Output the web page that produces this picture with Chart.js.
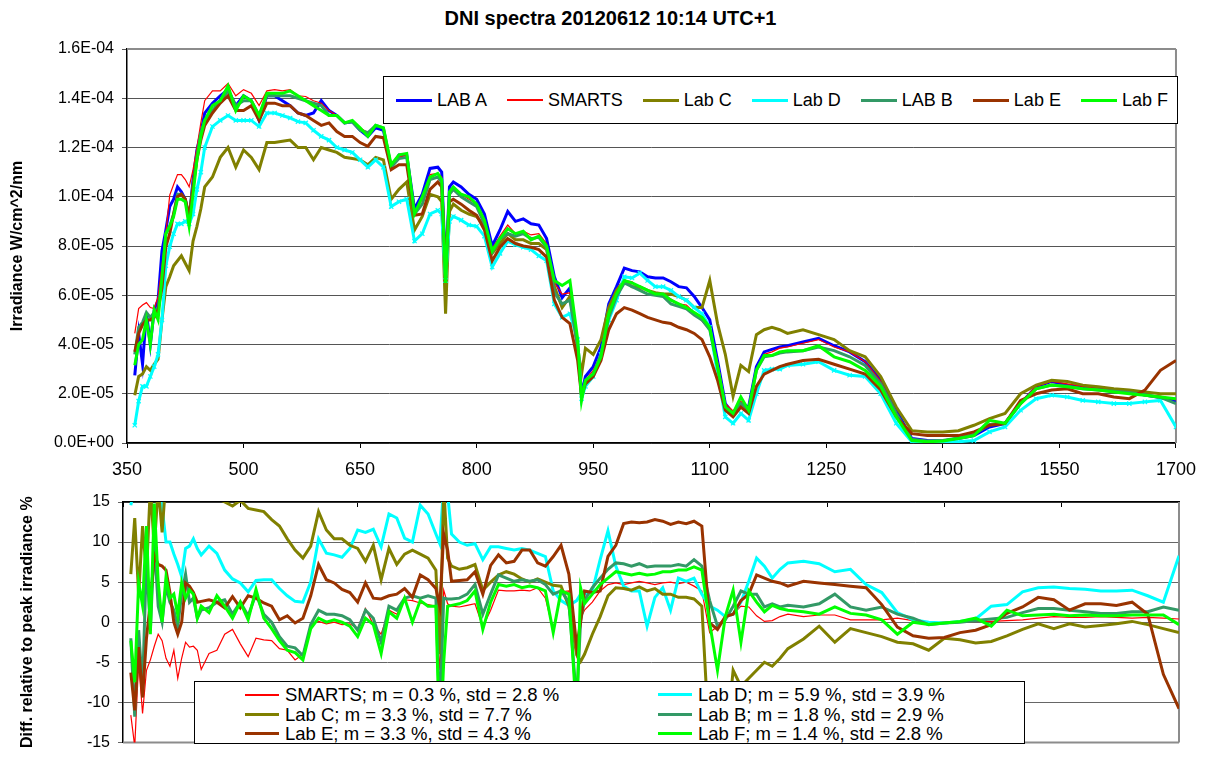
<!DOCTYPE html>
<html>
<head>
<meta charset="utf-8">
<title>DNI spectra 20120612 10:14 UTC+1</title>
<script src="https://cdn.jsdelivr.net/npm/chart.js@4.4.1/dist/chart.umd.min.js"></script>
<style>
    html, body { margin: 0; padding: 0; background: #fff; }
    body { width: 1207px; height: 760px; position: relative; overflow: hidden; font-family: "Liberation Sans", Arial, sans-serif; color: #000; }
    .title { position: absolute; left: 0; top: 6px; width: 1221px; text-align: center; font-weight: bold; font-size: 20px; line-height: 24px; }
    #topWrap { position: absolute; left: 0; top: 0; width: 1207px; height: 490px; }
    #bottomWrap { position: absolute; left: 0; top: 470px; width: 1207px; height: 290px; }
    .legend { position: absolute; background: #fff; border: 1px solid #000; box-sizing: border-box; z-index: 2; font-size: 18px; }
    #topLegend { left: 383px; top: 76px; width: 795px; height: 48px; display: flex; align-items: center; gap: 20px; padding-left: 12px; }
    #bottomLegend { left: 194px; top: 681px; width: 831px; height: 63px; display: grid; grid-template-columns: 413px auto; grid-auto-rows: 19.5px; padding: 3px 0 0 50px; line-height: 19.5px; font-size: 18.5px; }
    .item { display: flex; align-items: center; white-space: nowrap; }
    .swatch { width: 36px; margin-right: 5px; }
    #bottomLegend .swatch { width: 34px; margin-right: 6px; }
</style>
</head>
<body>
<div class="title">DNI spectra 20120612 10:14 UTC+1</div>
<div id="topWrap"><canvas id="spectraChart"></canvas></div>
<div id="bottomWrap"><canvas id="diffChart"></canvas></div>
<div class="legend" id="topLegend"></div>
<div class="legend" id="bottomLegend"></div>

<script>
// wavelength grid, nm
const wavelengths = [
    360, 365, 370, 375, 380, 385, 390, 395, 400, 405, 410, 415, 420, 425, 430, 435, 440, 445, 450,
    460, 470, 480, 490, 500, 510, 520, 530, 540, 550, 560, 570, 580, 590, 600, 610, 620, 630, 640, 650, 660, 670, 680, 690, 700,
    710, 720, 730, 740, 750, 755, 760, 765, 770, 780, 790, 800, 810, 820, 830, 840, 850, 860, 870, 880, 890, 900, 910, 920, 930, 935, 940, 950, 960, 970, 980, 990, 1000,
    1010, 1020, 1030, 1040, 1050, 1060, 1070, 1080, 1090, 1100, 1110, 1120, 1130, 1140, 1150, 1160, 1170, 1180, 1190, 1200,
    1220, 1240, 1260, 1280, 1300, 1320, 1340, 1360, 1380, 1400, 1420, 1440, 1460, 1480, 1500, 1520, 1540, 1560, 1580, 1600, 1620, 1640, 1660, 1680, 1700
];

const xTicks = [350, 500, 650, 800, 950, 1100, 1250, 1400, 1550, 1700];

// irradiance, in units of 1E-05 W/cm^2/nm
const topYTicks = [0, 2, 4, 6, 8, 10, 12, 14, 16];
const topYLabels = ['0.0E+00', '2.0E-05', '4.0E-05', '6.0E-05', '8.0E-05', '1.0E-04', '1.2E-04', '1.4E-04', '1.6E-04'];

const labA = [
    2.75, 4.45, 3.2, 5.3, 4.0, 5.4, 5.8, 7.8, 8.65, 9.6, 9.9, 10.4, 10.2, 9.9, 9.05, 10.7, 11.9, 12.6, 13.4,
    13.8, 14.1, 14.35, 13.7, 14.1, 13.9, 13.1, 14.1, 14.1, 13.9, 13.7, 13.4, 13.3, 13.4, 13.9, 13.5, 13.3, 13.0, 13.05, 12.7, 12.45, 12.8, 12.7, 11.2, 11.7,
    11.7, 9.5, 10.1, 11.15, 11.2, 11.0, 7.0, 10.4, 10.6, 10.4, 10.1, 9.9, 9.3, 8.0, 8.65, 9.4, 9.0, 9.1, 8.9, 8.85, 8.3, 6.75, 5.9, 6.3, 3.9, 2.0, 2.7, 3.1, 3.9, 5.65, 6.35, 7.1, 7.0,
    6.95, 6.75, 6.7, 6.7, 6.55, 6.35, 6.3, 5.95, 5.5, 5.0, 3.35, 1.6, 1.2, 1.6, 1.46, 3.1, 3.7, 3.8, 3.9, 3.95,
    4.1, 4.25, 3.95, 3.7, 3.3, 2.55, 1.33, 0.18, 0.1, 0.08, 0.18, 0.3, 0.65, 0.8, 1.6, 2.28, 2.5, 2.35, 2.28, 2.2, 2.15, 2.1, 1.95, 1.85, 1.7
];
const smarts = [
    4.45, 5.46, 5.6, 5.7, 5.5, 5.46, 5.94, 7.2, 8.5, 10.07, 10.5, 10.9, 10.9, 10.7, 10.4, 11.1, 12.0, 13.0, 13.9,
    14.3, 14.3, 14.6, 14.1, 14.35, 14.2, 13.7, 14.3, 14.35, 14.3, 14.35, 14.1, 14.07, 13.9, 13.8, 13.5, 13.3, 13.0, 13.1, 12.8, 12.6, 12.9, 12.8, 11.2, 11.6,
    11.7, 9.4, 9.9, 10.9, 10.95, 10.8, 7.15, 10.2, 10.4, 10.1, 9.9, 9.7, 9.05, 7.9, 8.4, 8.85, 8.5, 8.6, 8.45, 8.5, 8.1, 6.5, 6.05, 6.1, 4.05, 1.9, 2.55, 2.95, 3.6, 5.4, 6.05, 6.6, 6.55,
    6.25, 6.05, 6.0, 6.0, 5.85, 5.65, 5.6, 5.3, 4.95, 4.6, 3.3, 1.6, 1.3, 1.7, 1.33, 2.95, 3.6, 3.7, 3.85, 3.9,
    4.05, 4.2, 3.9, 3.7, 3.3, 2.5, 1.25, 0.15, 0.08, 0.1, 0.2, 0.35, 0.7, 0.85, 1.65, 2.3, 2.5, 2.4, 2.3, 2.2, 2.15, 2.1, 1.95, 1.9, 1.75
];
const labC = [
    1.94, 2.7, 2.8, 3.1, 2.95, 3.2, 3.4, 5.0, 6.35, 6.75, 7.2, 7.4, 7.6, 7.3, 7.0, 8.2, 8.8, 9.5, 10.4,
    10.8, 11.6, 12.0, 11.2, 11.9, 11.6, 11.1, 12.2, 12.2, 12.25, 12.3, 12.0, 12.0, 11.5, 12.0, 11.9, 11.8, 11.6, 11.55, 11.5, 11.3, 11.6, 11.5, 9.9, 10.3,
    10.6, 8.65, 9.2, 10.1, 10.0, 9.8, 5.25, 9.4, 9.7, 9.45, 9.3, 9.2, 8.8, 7.7, 8.1, 8.5, 8.25, 8.25, 8.1, 8.1, 7.85, 6.35, 5.5, 5.95, 3.9, 2.8, 3.85, 3.6, 4.2, 5.5, 6.2, 6.6, 6.35,
    6.35, 6.2, 6.1, 6.05, 6.05, 5.95, 5.8, 5.5, 5.5, 6.6, 4.85, 3.6, 1.9, 3.15, 2.9, 4.4, 4.6, 4.7, 4.6, 4.45,
    4.6, 4.4, 4.2, 3.75, 3.5, 2.7, 1.46, 0.5, 0.45, 0.45, 0.5, 0.72, 0.99, 1.2, 2.0, 2.35, 2.55, 2.5, 2.35, 2.28, 2.2, 2.15, 2.07, 2.0, 2.0
];
const labD = [
    0.72, 1.7, 2.3, 2.3, 2.7, 3.1, 3.6, 5.0, 7.2, 7.97, 8.5, 8.9, 8.9, 9.0, 8.9, 9.3, 10.3, 11.0, 12.0,
    12.85, 13.1, 13.3, 13.1, 13.1, 13.1, 12.85, 13.4, 13.4, 13.3, 13.2, 13.05, 13.0, 12.7, 12.45, 12.3, 12.0, 11.9, 11.8, 11.5, 11.2, 11.5, 11.2, 9.6, 9.8,
    9.9, 8.2, 8.5, 9.3, 9.45, 9.3, 6.6, 9.0, 9.2, 9.05, 8.85, 8.8, 8.4, 7.15, 7.7, 8.2, 8.05, 7.95, 7.85, 7.6, 7.4, 5.65, 5.1, 5.25, 4.2, 1.8, 2.3, 2.7, 3.6, 5.0, 5.8, 6.75, 6.7,
    6.9, 6.6, 6.35, 6.35, 6.2, 5.95, 5.8, 5.5, 5.25, 4.7, 2.8, 1.06, 0.8, 1.2, 0.92, 2.0, 2.95, 3.0, 3.0, 3.15,
    3.2, 3.3, 2.95, 2.75, 2.7, 2.0, 0.8, 0.05, 0.0, 0.02, 0.05, 0.1, 0.45, 0.65, 1.33, 1.8, 1.94, 1.87, 1.73, 1.67, 1.6, 1.6, 1.67, 1.73, 0.65
];
const labB = [
    3.6, 4.7, 4.9, 5.3, 5.1, 5.3, 5.5, 6.5, 8.5, 8.8, 9.3, 10.1, 10.1, 9.9, 9.2, 10.5, 11.6, 12.6, 13.1,
    13.5, 13.9, 14.3, 13.7, 13.9, 13.9, 13.3, 14.1, 14.1, 14.1, 14.1, 14.0, 13.9, 13.8, 13.7, 13.3, 13.3, 13.0, 13.05, 12.7, 12.6, 12.9, 12.8, 11.2, 11.55,
    11.6, 9.3, 9.7, 10.7, 10.8, 10.6, 6.9, 10.1, 10.3, 10.0, 9.8, 9.6, 8.9, 7.75, 8.3, 8.5, 8.4, 8.5, 8.3, 8.35, 7.95, 6.1, 5.65, 5.8, 3.95, 1.9, 2.5, 2.8, 3.6, 5.1, 5.95, 6.5, 6.35,
    6.2, 6.05, 6.0, 5.95, 5.65, 5.55, 5.45, 5.2, 5.0, 4.6, 3.1, 1.46, 1.2, 1.6, 1.33, 2.95, 3.5, 3.55, 3.65, 3.7,
    3.75, 3.9, 3.75, 3.5, 3.15, 2.4, 1.2, 0.15, 0.08, 0.1, 0.2, 0.35, 0.75, 0.8, 1.6, 2.2, 2.35, 2.3, 2.2, 2.15, 2.1, 2.05, 1.95, 1.85, 1.6
];
const labE = [
    3.7, 4.45, 4.8, 5.0, 5.0, 5.1, 5.4, 6.3, 7.97, 8.5, 9.3, 10.0, 10.1, 9.9, 9.2, 10.4, 11.5, 12.3, 12.9,
    13.4, 13.8, 14.1, 13.5, 13.5, 13.7, 13.1, 13.8, 13.8, 13.7, 13.7, 13.4, 13.3, 13.1, 12.9, 13.0, 12.65, 12.45, 12.45, 12.2, 12.05, 12.45, 12.4, 11.1, 11.3,
    11.3, 9.25, 9.3, 10.3, 10.6, 10.4, 6.9, 9.8, 9.9, 9.7, 9.45, 9.25, 8.65, 7.4, 7.95, 8.3, 8.1, 8.0, 7.95, 7.85, 7.55, 5.8, 5.1, 4.85, 3.35, 1.9, 2.4, 2.7, 3.35, 4.6, 5.25, 5.5, 5.4,
    5.25, 5.1, 5.0, 4.9, 4.85, 4.7, 4.6, 4.45, 4.2, 3.5, 2.55, 1.33, 1.06, 1.46, 1.2, 2.3, 2.8, 2.95, 3.1, 3.2,
    3.35, 3.4, 3.2, 3.0, 2.8, 2.15, 1.06, 0.38, 0.3, 0.3, 0.3, 0.45, 0.72, 0.79, 1.73, 2.0, 2.15, 2.2, 2.0, 2.0, 1.87, 1.8, 2.15, 2.95, 3.35
];
const labF = [
    3.16, 4.0, 4.2, 5.0, 4.0, 5.4, 5.0, 6.75, 8.5, 8.8, 9.2, 9.9, 9.9, 9.8, 8.8, 10.1, 11.5, 12.45, 13.1,
    13.7, 13.9, 14.5, 13.5, 14.1, 13.9, 13.3, 14.2, 14.2, 14.2, 14.3, 14.1, 13.9, 13.7, 13.5, 13.3, 13.3, 13.0, 13.1, 12.8, 12.45, 12.9, 12.8, 11.3, 11.7,
    11.76, 9.3, 10.0, 10.8, 10.95, 10.7, 6.5, 10.2, 10.4, 10.1, 10.0, 9.7, 9.05, 7.8, 8.3, 8.7, 8.5, 8.6, 8.25, 8.4, 8.0, 6.6, 6.4, 6.6, 4.2, 1.73, 2.55, 2.8, 3.5, 5.25, 6.05, 6.6, 6.5,
    6.35, 6.2, 6.05, 6.05, 5.8, 5.65, 5.5, 5.3, 5.1, 4.7, 3.1, 1.46, 1.2, 1.87, 1.33, 2.95, 3.55, 3.55, 3.7, 3.75,
    3.75, 3.95, 3.5, 3.3, 2.95, 2.3, 1.06, 0.1, 0.05, 0.08, 0.18, 0.3, 0.92, 0.8, 1.6, 2.2, 2.35, 2.28, 2.2, 2.15, 2.07, 2.0, 1.94, 1.87, 1.8
];

// difference relative to peak irradiance, %
const diffYTicks = [-15, -10, -5, 0, 5, 10, 15];

const diffSmarts = [
    -11.6, -15.5, -5, -11.4, -6, -4.7, -3, -1.5, -2.3, -4.5, -5.5, -3.5, -7.0, -4.5, -2.5, -3.1, -3.0, -3.5, -5.9,
    -3.9, -3.5, -1.5, -0.9, -2.7, -4.3, -2.0, -2.2, -2.3, -3.3, -3.5, -4.7, -4.0, -0.3, 0.1, -0.2, 0.0, -0.3, -0.2, -0.8, 1.7, -0.3, -1.5, 1.5, 1.0,
    2.8, 2.7, 2.4, 2.2, 2.0, -6, 4, 2.3, 2.0, 1.9, 2.1, 2.3, -0.6, 1.5, 4.0, 3.9, 3.9, 4.0, 3.9, 4.3, 3.0, -1.0, 3.8, 3.9, -4.0, 0.5, 1.5, 2.5, 3.9, 4.7, 4.9, 4.7, 4.9,
    5.1, 4.9, 4.7, 4.9, 5.0, 4.8, 5.0, 4.5, 3.9, -1.3, -0.5, 0.7, 1.0, 2.0, 1.9, 0.8, 0.1, 0.2, 0.7, 1.0,
    0.7, 0.9, 0.9, 0.3, 0.3, 0.3, 0.5, 0.2, -0.3, -0.1, 0.0, 0.1, 0.1, 0.2, 0.3, 0.5, 0.7, 0.6, 0.6, 0.7, 0.6, 0.5, 0.6, 0.5, 0.4
];
const diffC = [
    6.0, 13, 3.3, 12, 6, 17, 9.2, 17, 11.2, 18, 18, 18, 18, 18, 18, 18, 18, 18, 18,
    18, 15.5, 15.0, 14.5, 15.2, 14.2, 14.0, 13.8, 12.8, 12.0, 10.4, 9.0, 8.0, 9.5, 13.8, 11.5, 10.4, 10.4, 9.6, 9.2, 7.6, 9.6, 5.3, 9.2, 7.2,
    8.5, 9.0, 8.5, 8.0, 6.5, -4, 17, 8, 7.0, 6.6, 6.8, 7.2, 4.0, 5.0, 5.9, 6.3, 6.0, 5.4, 5.0, 5.4, 5.0, 4.6, 4.5, 2.0, -4.1, -4.9, -4.0, -1.5, 0.7, 3.3, 4.3, 4.2, 4.0,
    4.4, 3.9, 4.2, 3.5, 3.5, 3.1, 3.1, 2.9, 2.0, -16, -9, -16, -6, -8, -7, -6, -5, -5.5, -4.5, -3.3,
    -2.1, -0.5, -2.5, -0.8, -1.3, -1.8, -2.5, -2.7, -3.5, -2.0, -2.2, -2.6, -2.4, -1.7, -0.9, -0.2, -0.8, -0.2, -0.6, -0.4, -0.2, 0.1, -0.3, -0.8, -1.3
];
const diffE = [
    -6.3, -11, -3.1, -9.4, -2, 2.5, 8.4, 7.2, 7.0, 6.5, 3.7, 0.0, -1.5, 0.0, 4.9, 4.5, 3.7, 2.5, 2.6,
    2.8, 2.5, 1.8, 3.2, 1.8, 3.3, 3.0, 2.4, 2.0, 0.3, 0.8, -0.1, 0.5, 3.3, 7.2, 5.3, 4.9, 4.1, 3.7, 2.5, 4.9, 3.0, 2.9, 3.3, 3.5,
    4.2, 3.1, 5.9, 5.3, 4.2, 2.0, 11, 9.0, 5.1, 5.2, 5.3, 6.3, 3.5, 7.1, 8.4, 7.4, 7.6, 9.0, 9.0, 7.4, 7.0, 8.2, 9.6, 6.0, -3, 0, 3.9, 3.7, 3.9, 8.2, 9.6, 12.3, 12.5,
    12.4, 12.5, 12.8, 12.6, 12.2, 12.5, 12.3, 12.6, 12.0, -0.1, -0.9, 0.7, 1.0, 2.7, 3.5, 5.9, 5.5, 5.1, 4.9, 4.5,
    5.1, 4.9, 4.7, 4.5, 4.3, 2.2, -0.6, -1.7, -2.0, -1.9, -1.3, -1.0, -0.3, 1.1, 1.9, 3.1, 2.8, 1.5, 2.3, 2.3, 2.1, 2.5, 1.0, -6.5, -10.8
];
const diffD = [
    14.6, 17, 17, 17, 17, 17, 17, 17, 14.4, 10.0, 10.0, 8.5, 7.2, 5.7, 9.2, 9.5, 10.4, 9.2, 8.4,
    9.5, 8.6, 6.5, 5.4, 4.9, 3.8, 5.2, 5.3, 5.3, 4.2, 3.3, 2.6, 2.5, 5.0, 10.4, 8.6, 8.4, 8.1, 9.2, 11.5, 11.2, 11.6, 9.4, 13.5, 13.0,
    10.5, 10.0, 14.6, 13.5, 11.0, 9.8, 17, 16, 11, 10.0, 9.6, 9.8, 7.8, 9.4, 9.4, 9.2, 9.0, 9.2, 9.0, 8.6, 8.2, 3.9, 2.7, 2.1, 2.7, 3.5, 3.5, 3.9, 7.8, 11.4, 7.0, 4.5, 3.9,
    3.9, -0.5, 3.1, 4.3, 1.5, 5.5, 5.1, 5.5, 3.5, 2.0, 1.5, 0.7, 1.0, 2.5, 5.1, 8.0, 7.0, 5.5, 6.6, 7.4,
    7.6, 7.3, 6.3, 6.6, 4.7, 3.7, 1.2, 0.3, 0.0, -0.1, 0.1, 0.4, 2.0, 2.2, 3.8, 4.3, 4.4, 4.2, 4.1, 3.9, 3.9, 4.0, 3.3, 2.5, 8.3
];
const diffB = [
    -2.0, -11.8, -1.0, -8.3, 8, -1.0, 10, 2, 0, 4.5, 2.5, 1.5, -0.5, 3.5, 6.0, 2.5, 3.0, 0.5, 1.5,
    1.8, 2.5, 2.8, 1.0, 2.5, 0.8, 3.5, 1.0, 0.0, -1.8, -3.0, -3.2, -4.2, -0.3, 1.5, 1.0, 1.0, 0.8, 0.3, -1.0, 1.5, 0.5, -2.5, 2.0, 1.5,
    3.0, 3.3, 3.0, 3.3, 3.0, -12, 3, 2.9, 2.9, 3.0, 3.5, 4.7, 1.0, 3.5, 5.9, 5.5, 5.1, 5.3, 5.1, 5.3, 4.7, 3.5, 3.9, 2.5, -10, 0.2, 2.7, 4.3, 5.5, 6.6, 7.4, 7.3, 7.0,
    7.3, 6.9, 7.0, 7.0, 7.0, 7.2, 7.0, 7.8, 7.0, 2.7, -0.5, 0.3, 2.0, 3.9, 3.5, 3.5, 1.9, 2.3, 1.9, 2.1,
    1.9, 2.3, 3.5, 1.9, 1.5, 1.9, 1.0, 0.5, -0.3, -0.1, 0.0, 0.2, 0.4, 0.6, 1.2, 1.7, 1.7, 1.5, 1.3, 1.1, 1.1, 1.3, 1.3, 1.9, 1.5
];
const diffF = [
    -2.3, -7.5, 4.9, 2.1, 12, -1.5, 14.8, 5, 0, 5.7, 3.0, 3.5, 0.9, 4.9, 3.0, 4.0, 3.5, 0.5, 2.0,
    1.2, 3.3, 2.0, 0.5, 2.5, 0.3, 4.1, 0.5, -0.8, -2.3, -3.5, -3.8, -4.7, -0.8, 0.5, 0.0, 0.3, 0.0, -0.5, -1.8, 0.5, -0.3, -3.9, 1.3, 0.5,
    3.0, 0.0, 2.7, 2.0, 2.0, -16, -5, 2.0, 2.1, 2.3, 2.7, 3.9, -0.9, 2.5, 4.7, 4.5, 4.7, 4.3, 4.5, 4.3, 3.9, -1.3, 3.9, 3.5, -12, 4.3, 2.3, 3.5, 4.7, 5.5, 6.3, 6.1, 5.9,
    6.1, 5.9, 6.0, 6.3, 6.3, 6.5, 6.5, 6.9, 6.5, -0.1, -6, 0.7, 4.0, -2.5, 3.9, 2.5, 1.3, 2.1, 1.7, 1.5,
    1.3, 1.0, 1.9, 1.1, 0.9, 0.3, -1.5, 0.0, -0.3, -0.1, 0.1, 0.5, -0.5, 1.5, 0.8, 0.9, 1.0, 0.8, 0.9, 0.8, 0.8, 0.9, 0.9, 0.9, -0.3
];

const FONT = '"Liberation Sans", Arial, sans-serif';

const spectraSeries = [
    { label: 'LAB A', values: labA, color: '#0000FF', width: 3 },
    { label: 'SMARTS', values: smarts, color: '#FF0000', width: 1.2 },
    { label: 'Lab C', values: labC, color: '#808000', width: 3 },
    { label: 'Lab D', values: labD, color: '#00FFFF', width: 3, marker: 'crossRot' },
    { label: 'LAB B', values: labB, color: '#339966', width: 3 },
    { label: 'Lab E', values: labE, color: '#993300', width: 3 },
    { label: 'Lab F', values: labF, color: '#00FF00', width: 3 }
];

const diffSeries = [
    { label: 'SMARTS; m = 0.3 %, std = 2.8 %', values: diffSmarts, color: '#FF0000', width: 1.2 },
    { label: 'Lab D; m = 5.9 %, std = 3.9 %', values: diffD, color: '#00FFFF', width: 3 },
    { label: 'Lab C; m = 3.3 %, std = 7.7 %', values: diffC, color: '#808000', width: 3 },
    { label: 'Lab B; m = 1.8 %, std = 2.9 %', values: diffB, color: '#339966', width: 3 },
    { label: 'Lab E; m = 3.3 %, std = 4.3 %', values: diffE, color: '#993300', width: 3 },
    { label: 'Lab F; m = 1.4 %, std = 2.8 %', values: diffF, color: '#00FF00', width: 3 }
];

// grey frame on the plot-area sides that carry no axis
const plotFrame = {
    id: 'plotFrame',
    beforeDatasetsDraw(chart, args, opts) {
        const { ctx, chartArea: a } = chart;
        const edges = opts.edges || [];
        ctx.save();
        ctx.strokeStyle = '#8c8c8c';
        ctx.lineWidth = 2;
        ctx.beginPath();
        if (edges.includes('top')) { ctx.moveTo(a.left, a.top); ctx.lineTo(a.right, a.top); }
        if (edges.includes('right')) { ctx.moveTo(a.right, a.top); ctx.lineTo(a.right, a.bottom); }
        if (edges.includes('bottom')) { ctx.moveTo(a.left, a.bottom); ctx.lineTo(a.right, a.bottom); }
        ctx.stroke();
        ctx.restore();
    }
};

function toPoints(values) {
    return wavelengths.map((w, i) => ({ x: w, y: values[i] }));
}

function makeDatasets(series) {
    return series.map((s, i) => ({
        label: s.label,
        data: toPoints(s.values),
        borderColor: s.color,
        backgroundColor: s.color,
        borderWidth: s.width,
        pointRadius: s.marker ? 3 : 0,
        pointStyle: s.marker || 'circle',
        pointBorderWidth: 1.2,
        pointBorderColor: s.color,
        tension: 0,
        fill: false,
        order: series.length - i
    }));
}

function renderSpectraChart() {
    new Chart(document.getElementById('spectraChart'), {
        type: 'line',
        data: { datasets: makeDatasets(spectraSeries) },
        plugins: [plotFrame],
        options: {
            responsive: true,
            maintainAspectRatio: false,
            animation: false,
            devicePixelRatio: 1,
            layout: { padding: { left: 0, right: 27, top: 49, bottom: 0 } },
            plugins: {
                legend: { display: false },
                tooltip: { enabled: false },
                plotFrame: { edges: ['top', 'right'] }
            },
            scales: {
                x: {
                    type: 'linear',
                    min: 350,
                    max: 1700,
                    afterBuildTicks: s => { s.ticks = xTicks.map(v => ({ value: v })); },
                    afterFit: s => { s.height = 47; },
                    grid: { drawOnChartArea: false, drawTicks: true, tickLength: 5, color: '#000' },
                    border: { color: '#000', width: 1.5 },
                    ticks: {
                        autoSkip: false,
                        maxRotation: 0,
                        padding: 11,
                        color: '#000',
                        font: { family: FONT, size: 18 },
                        callback: v => String(v)
                    }
                },
                y: {
                    min: 0,
                    max: 16,
                    afterBuildTicks: s => { s.ticks = topYTicks.map(v => ({ value: v })); },
                    afterFit: s => { s.width = 127; },
                    grid: { color: '#555', lineWidth: 1, drawTicks: true, tickLength: 5 },
                    border: { color: '#000', width: 1.5 },
                    ticks: {
                        autoSkip: false,
                        padding: 8,
                        color: '#000',
                        font: { family: FONT, size: 16 },
                        callback: v => topYLabels[topYTicks.indexOf(v)]
                    },
                    title: {
                        display: true,
                        text: 'Irradiance W/cm^2/nm',
                        color: '#000',
                        font: { family: FONT, size: 16, weight: 'bold' },
                        padding: { top: 8, bottom: 0 }
                    }
                }
            }
        }
    });
}

function renderDiffChart() {
    new Chart(document.getElementById('diffChart'), {
        type: 'line',
        data: { datasets: makeDatasets(diffSeries) },
        plugins: [plotFrame],
        options: {
            responsive: true,
            maintainAspectRatio: false,
            animation: false,
            devicePixelRatio: 1,
            layout: { padding: { left: 0, right: 28, top: 32, bottom: 7 } },
            plugins: {
                legend: { display: false },
                tooltip: { enabled: false },
                plotFrame: { edges: ['right', 'bottom'] }
            },
            scales: {
                x: {
                    type: 'linear',
                    position: 'top',
                    min: 350,
                    max: 1700,
                    afterBuildTicks: s => { s.ticks = xTicks.map(v => ({ value: v })); },
                    afterFit: s => { s.height = 0; },
                    grid: { drawOnChartArea: false, drawTicks: true, tickLength: -5, color: '#000' },
                    border: { color: '#000', width: 1.5 },
                    ticks: { display: false }
                },
                y: {
                    min: -15,
                    max: 15,
                    afterBuildTicks: s => { s.ticks = diffYTicks.map(v => ({ value: v })); },
                    afterFit: s => { s.width = 123; },
                    grid: { color: '#666', lineWidth: 1, drawTicks: true, tickLength: 5 },
                    border: { color: '#000', width: 1.5 },
                    ticks: { autoSkip: false, padding: 8, color: '#000', font: { family: FONT, size: 16 } },
                    title: {
                        display: true,
                        text: 'Diff. relative to peak irradiance %',
                        color: '#000',
                        font: { family: FONT, size: 16, weight: 'bold' },
                        padding: { top: 18, bottom: 0 }
                    }
                }
            }
        }
    });
}

function renderLegend(containerId, series) {
    const container = document.getElementById(containerId);
    container.innerHTML = '';
    series.forEach(s => {
        const item = document.createElement('div');
        item.className = 'item';
        item.innerHTML = `
            <div class="swatch" style="height:${Math.max(s.width, 1.5)}px;background:${s.color}"></div>
            <span>${s.label}</span>
        `;
        container.appendChild(item);
    });
}

document.addEventListener('DOMContentLoaded', () => {
    renderSpectraChart();
    renderDiffChart();
    renderLegend('topLegend', spectraSeries);
    renderLegend('bottomLegend', diffSeries);
});
</script>
</body>
</html>
